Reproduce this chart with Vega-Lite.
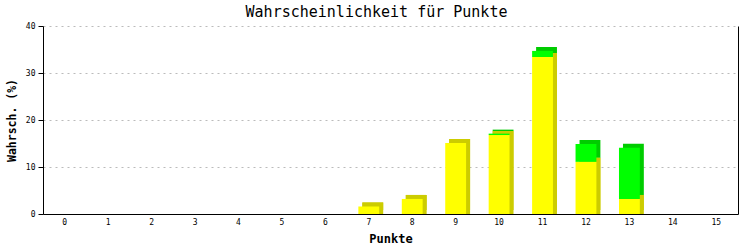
{
  "$schema": "https://vega.github.io/schema/vega-lite/v6.json",
  "width": 695,
  "height": 188,
  "autosize": {"type": "none"},
  "padding": {"left": 43, "top": 26, "right": 15, "bottom": 36},
  "background": "white",
  "title": {
    "text": "Wahrscheinlichkeit für Punkte",
    "font": "DejaVu Sans Mono",
    "fontSize": 15,
    "fontWeight": "normal",
    "color": "black",
    "anchor": "middle",
    "frame": "group",
    "dx": -14,
    "dy": 19,
    "baseline": "bottom",
    "offset": 6
  },
  "data": {
    "values": [
      {"Punkte": 7, "Farbe": "gelb", "Wert": 1.6},
      {"Punkte": 8, "Farbe": "gelb", "Wert": 3.2},
      {"Punkte": 9, "Farbe": "gelb", "Wert": 15.1},
      {"Punkte": 10, "Farbe": "gelb", "Wert": 16.8},
      {"Punkte": 10, "Farbe": "gruen", "Wert": 0.3},
      {"Punkte": 11, "Farbe": "gelb", "Wert": 33.4},
      {"Punkte": 11, "Farbe": "gruen", "Wert": 1.3},
      {"Punkte": 12, "Farbe": "gelb", "Wert": 11.1},
      {"Punkte": 12, "Farbe": "gruen", "Wert": 3.8},
      {"Punkte": 13, "Farbe": "gelb", "Wert": 3.2},
      {"Punkte": 13, "Farbe": "gruen", "Wert": 10.9}
    ]
  },
  "encoding": {
    "x": {
      "field": "Punkte",
      "type": "ordinal",
      "scale": {"domain": [0,1,2,3,4,5,6,7,8,9,10,11,12,13,14,15], "paddingInner": 0.52, "paddingOuter": 0.26},
      "axis": {
        "title": "Punkte",
        "titleFont": "DejaVu Sans Mono",
        "titleFontSize": 12,
        "titleFontWeight": "bold",
        "titleColor": "black",
        "titlePadding": 7,
        "labelFont": "DejaVu Sans Mono",
        "labelFontSize": 8,
        "labelColor": "black",
        "labelAngle": 0,
        "labelPadding": 4,
        "ticks": false,
        "domainColor": "black",
        "grid": false
      }
    }
  },
  "layer": [
    {
      "mark": {"type": "bar", "xOffset": 4, "yOffset": -4, "y2Offset": -4},
      "encoding": {
        "y": {"field": "Wert", "type": "quantitative", "stack": "zero", "scale": {"domain": [0, 40]}, "axis": null},
        "color": {"field": "Farbe", "type": "nominal", "scale": {"domain": ["gelb", "gruen"], "range": ["#cccc00", "#00cc00"]}, "legend": null},
        "order": {"field": "Farbe", "sort": "ascending"}
      }
    },
    {
      "transform": [{"filter": "datum.Farbe == 'gelb'"}],
      "mark": {"type": "bar", "xOffset": 4, "yOffset": -4, "y2Offset": 0, "color": "#cccc00"},
      "encoding": {
        "y": {
          "field": "Wert", "type": "quantitative", "stack": null, "scale": {"domain": [0, 40]},
          "axis": {"orient": "right", "labels": false, "ticks": false, "grid": false, "title": null, "domainColor": "black"}
        }
      }
    },
    {
      "mark": {"type": "bar"},
      "encoding": {
        "y": {
          "field": "Wert", "type": "quantitative", "stack": "zero", "scale": {"domain": [0, 40]},
          "axis": {
            "title": "Wahrsch. (%)",
            "titleFont": "DejaVu Sans Mono",
            "titleFontSize": 11.5,
            "titleFontWeight": "bold",
            "titleColor": "black",
            "titlePadding": 8,
            "values": [0, 10, 20, 30, 40],
            "labelFont": "DejaVu Sans Mono",
            "labelFontSize": 8,
            "labelColor": "black",
            "labelPadding": 3,
            "tickSize": 5,
            "tickColor": "black",
            "domainColor": "black",
            "grid": true,
            "gridColor": "#bbbbbb",
            "gridDash": [2, 4]
          }
        },
        "color": {"field": "Farbe", "type": "nominal", "scale": {"domain": ["gelb", "gruen"], "range": ["#ffff00", "#00ff00"]}, "legend": null},
        "order": {"field": "Farbe", "sort": "ascending"}
      }
    }
  ],
  "resolve": {"scale": {"color": "independent"}, "axis": {"y": "independent"}},
  "config": {"view": {"stroke": null}}
}
